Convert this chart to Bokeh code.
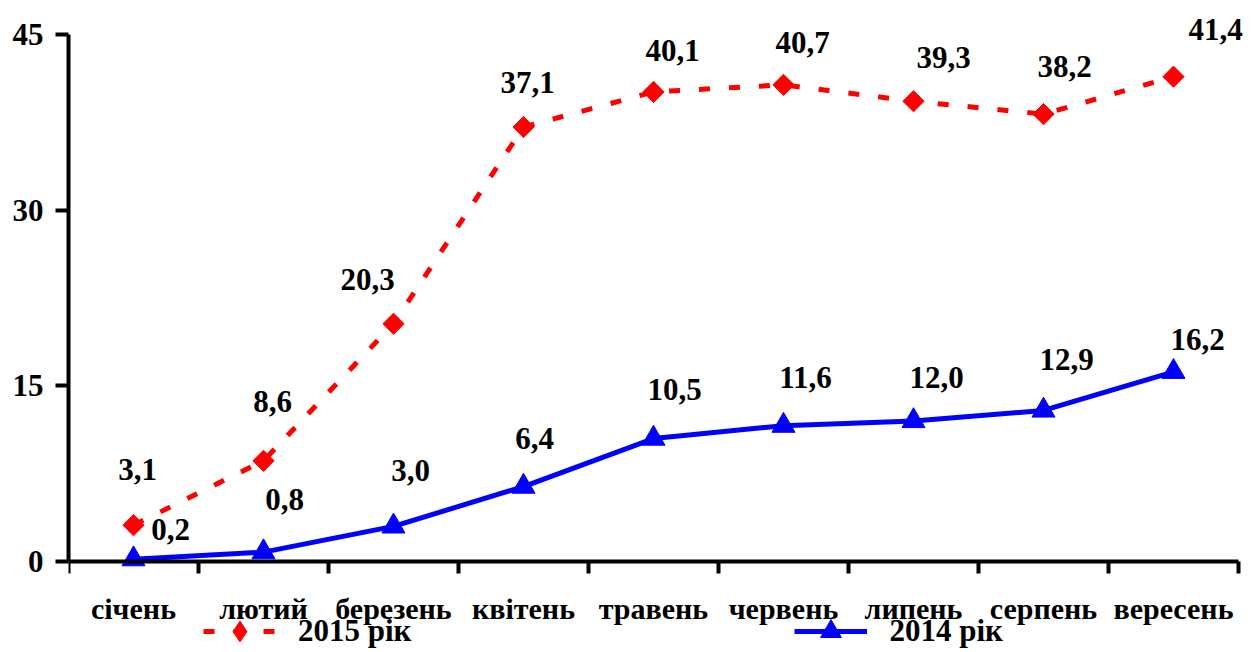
import math
from bokeh.plotting import figure
from bokeh.models import (ColumnDataSource, FixedTicker, Range1d, Legend, LegendItem, LinearAxis)
from bokeh.core.properties import value
from bokeh.embed import file_html
from bokeh.resources import INLINE

# ---- data ----
months = ["січень", "лютий", "березень", "квітень", "травень",
          "червень", "липень", "серпень", "вересень"]
y2015 = [3.1, 8.6, 20.3, 37.1, 40.1, 40.7, 39.3, 38.2, 41.4]
y2014 = [0.2, 0.8, 3.0, 6.4, 10.5, 11.6, 12.0, 12.9, 16.2]
y_ticks = [0, 15, 30, 45]
series_names = ["2015 рік", "2014 рік"]

# ---- label placement (screen pixel offsets from each point) ----
dx2015 = [4, 9, -26, 4, 19, 19, 30, 21, 42]
dy2015 = [-56, -59, -44, -45, -41, -42, -44, -48, -47]
dx2014 = [37, 21, 17, 11, 21, 22, 23, 23, 24]
dy2014 = [-30, -53, -56, -48, -49, -48, -43, -51, -32]

FONT = "Liberation Serif"
n = len(months)
xs = [i + 0.5 for i in range(n)]

def fmt(v):
    return f"{v:.1f}".replace(".", ",")

src15 = ColumnDataSource(dict(x=xs, y=y2015, lab=[fmt(v) for v in y2015], dx=dx2015, dy=dy2015))
src14 = ColumnDataSource(dict(x=xs, y=y2014, lab=[fmt(v) for v in y2014], dx=dx2014, dy=dy2014))

W, H = 1257, 652
left = 68
zero_px = 561          # screen row of y = 0
px_per_y = 527 / 45.0
px_per_x = 130.0
y_end = zero_px / px_per_y
y_start = -(H - zero_px) / px_per_y
x_end = (W - left) / px_per_x

p = figure(width=W, height=H, output_backend="svg", toolbar_location=None,
           x_range=Range1d(0, x_end), y_range=Range1d(y_start, y_end),
           x_axis_location=None,
           min_border_left=left, min_border_right=0, min_border_top=0,
           min_border_bottom=0)
p.outline_line_color = None
for g in p.grid:
    g.grid_line_color = None
    g.visible = False
p.background_fill_color = "white"
p.border_fill_color = "white"

# y axis
ya = p.yaxis[0]
ya.bounds = (0, 45)
ya.ticker = FixedTicker(ticks=y_ticks, minor_ticks=[])
ya.axis_line_width = 4
ya.axis_line_color = "black"
ya.major_tick_line_width = 4
ya.major_tick_out = 13
ya.major_tick_in = 0
ya.minor_tick_line_color = None
ya.major_label_text_font = FONT
ya.major_label_text_font_style = "bold"
ya.major_label_text_font_size = "31px"
ya.major_label_text_color = "black"
ya.major_label_standoff = 12

# x axis, fixed at y = 0
xa = LinearAxis(fixed_location=0)
xa.bounds = (0, n)
xa.ticker = FixedTicker(ticks=xs, minor_ticks=list(range(n + 1)))
xa.major_label_overrides = {x: m for x, m in zip(xs, months)}
xa.axis_line_width = 4
xa.axis_line_color = "black"
xa.major_tick_line_color = None
xa.major_tick_out = 0
xa.major_tick_in = 0
xa.minor_tick_line_width = 4
xa.minor_tick_line_color = "black"
xa.minor_tick_out = 12
xa.minor_tick_in = 0
xa.major_label_text_font = FONT
xa.major_label_text_font_style = "bold"
xa.major_label_text_font_size = "30px"
xa.major_label_text_color = "black"
xa.major_label_standoff = 18
p.add_layout(xa, "below")

# series
l15 = p.line("x", "y", source=src15, line_color="#ff0000", line_width=5, line_dash="11 19")
s15 = p.scatter("x", "y", source=src15, marker="square", size=15, angle=math.pi / 4,
                fill_color="#ff0000", line_color="#ff0000")
l14 = p.line("x", "y", source=src14, line_color="#0000ff", line_width=5)
s14 = p.scatter("x", "y", source=src14, marker="triangle", size=23,
                fill_color="#0000ff", line_color="#0000ff")

# legend-only marker sample for the 2015 series (no visible data)
leg15 = p.scatter(x=[float("nan")], y=[float("nan")], marker="diamond",
                  fill_color="#ff0000", line_color="#ff0000")

for src in (src15, src14):
    p.text("x", "y", text="lab", source=src, x_offset="dx", y_offset="dy",
           text_font=value(FONT), text_font_style="bold", text_font_size="31px",
           text_color="black", text_align="center", text_baseline="middle")

legend = Legend(items=[LegendItem(label=series_names[0], renderers=[l15, leg15]),
                       LegendItem(label=series_names[1], renderers=[l14, s14])],
                location=(135, -5), orientation="horizontal")
legend.border_line_color = None
legend.background_fill_alpha = 0
legend.padding = 0
legend.margin = 0
legend.spacing = 383
legend.glyph_width = 73
legend.glyph_height = 52
legend.label_height = 30
legend.label_standoff = 22
legend.label_text_font = FONT
legend.label_text_font_style = "bold"
legend.label_text_font_size = "31px"
legend.label_text_color = "black"
p.add_layout(legend, "center")

open("out.html", "w").write(file_html(p, INLINE))
